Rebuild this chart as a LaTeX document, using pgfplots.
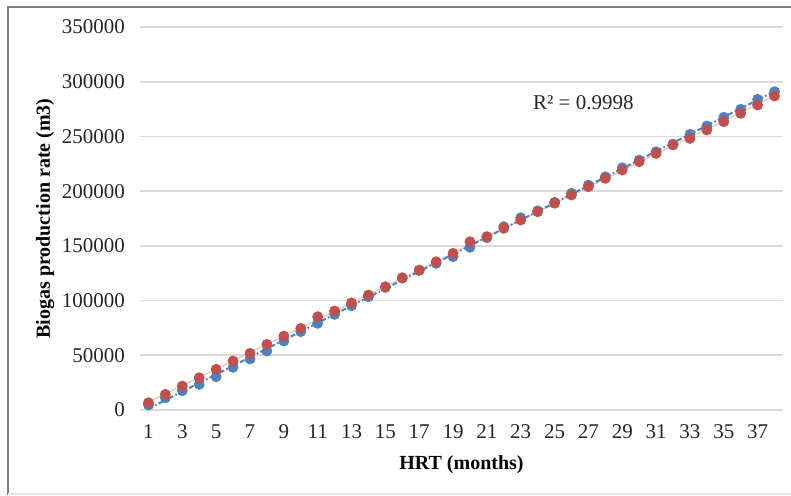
\documentclass[border=0pt]{standalone}
\usepackage{pgfplots}
\pgfplotsset{compat=1.18}
\usepackage{pgfplotstable}
\usepackage{fontspec}
\setmainfont{Liberation Serif}
\definecolor{serA}{HTML}{4F81BD}
\definecolor{serB}{HTML}{C0504D}
\definecolor{gridc}{HTML}{D9D9D9}
\definecolor{framec}{HTML}{808080}

\pgfplotstableread{
x blue red
1 4600 6700
2 11200 14300
3 17600 21900
4 23400 29500
5 30400 37200
6 39000 44800
7 46600 51800
8 53900 60000
9 63000 67600
10 71600 74600
11 79200 85300
12 87400 90500
13 95300 98000
14 103500 105100
15 112000 112700
16 120500 120900
17 127500 127900
18 134000 135500
19 140100 143200
20 148700 153800
21 157500 158400
22 167500 166000
23 175700 173600
24 182000 181200
25 189800 188900
26 198000 196500
27 205600 204100
28 213200 211700
29 221400 219300
30 228400 226900
31 236000 234500
32 243100 242200
33 251900 248200
34 259500 255900
35 267500 263500
36 274800 271100
37 283900 278700
38 290900 286900
}\biogas

\begin{document}
\begin{tikzpicture}
\path[use as bounding box] (0,0) rectangle (395.5pt,247.5pt);
\draw[framec, line width=1pt] (4pt,0) -- (4pt,244pt) -- (396pt,244pt);
\draw[gridc!70, line width=0.6pt] (4pt,0.5pt) -- (396pt,0.5pt);
\begin{axis}[
    at={(70pt,42.5pt)}, anchor=south west,
    scale only axis,
    width=321.5pt, height=191.5pt,
    xmin=0.5, xmax=38.5,
    ymin=0, ymax=350000,
    xtick={1,3,...,37},
    ytick={0,50000,...,350000},
    scaled y ticks=false,
    /pgf/number format/.cd, fixed, 1000 sep={}, assume math mode=true,
    /pgfplots/.cd,
    tick style={draw=none},
    ymajorgrids,
    grid style={gridc, line width=0.8pt},
    axis line style={draw=none},
    tick label style={font=\fontsize{10.5}{12}\selectfont, text=black!85},
    yticklabel style={xshift=-4pt},
    xticklabel style={yshift=-4pt},
    label style={font=\fontsize{10}{12}\selectfont\bfseries},
    xlabel={HRT (months)},
    ylabel={Biogas production rate (m3)},
    xlabel style={at={(axis description cs:0.5,-0.1436)}, anchor=center},
    ylabel style={at={(axis description cs:-0.1477,0.5)}, anchor=center},
    clip=false,
]
\draw[gridc, line width=0.8pt] (axis cs:0.5,0) -- (axis cs:38.5,0);
\addplot[only marks, mark=*, mark size=2.5pt, color=serA] table[x=x, y=blue] {\biogas};
\addplot[only marks, mark=*, mark size=2.5pt, color=serB] table[x=x, y=red] {\biogas};
\addplot[no marks, serB!35, line width=0.6pt] table[x=x, y={create col/linear regression={y=red}}] {\biogas};
\addplot[no marks, serA, line width=1pt, dash pattern=on 2.5pt off 1.2pt on 0.8pt off 1.2pt] table[x=x, y={create col/linear regression={y=blue}}] {\biogas};
\node[font=\fontsize{10.5}{12}\selectfont, text=black!85] at (axis cs:26.7,280500) {R² = 0.9998};
\end{axis}
\end{tikzpicture}
\end{document}
